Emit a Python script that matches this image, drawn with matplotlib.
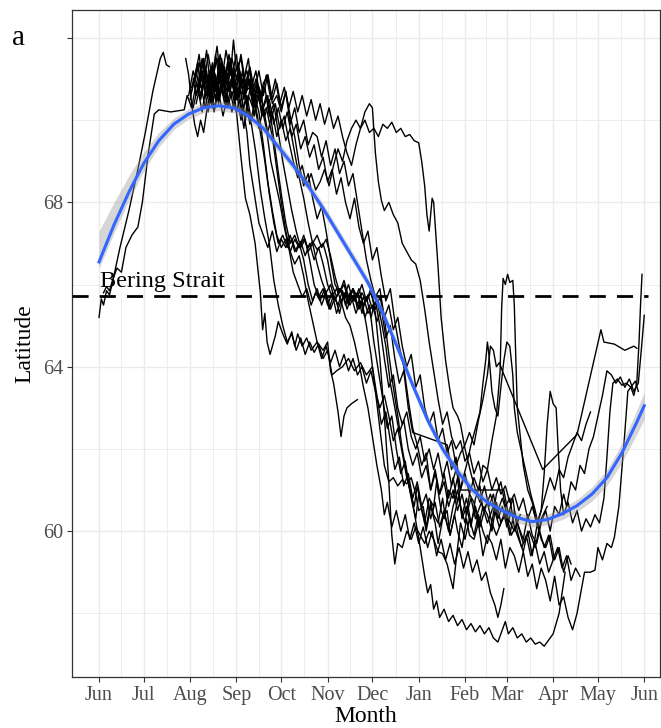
import numpy as np
import matplotlib.pyplot as plt

# month ticks, in days since 1 June
month_days = [0, 30, 61, 92, 122, 153, 183, 214, 245, 273, 304, 334, 365]
month_labels = ['Jun', 'Jul', 'Aug', 'Sep', 'Oct', 'Nov', 'Dec', 'Jan', 'Feb', 'Mar', 'Apr', 'May', 'Jun']
lat_ticks = [60, 64, 68, 72]
lat_labels = ['60', '64', '68', '']

bering_lat = 65.72

# smoothed mean track (loess) and its confidence band
smooth_day = [0, 10, 20, 30, 40, 50, 60, 70, 80, 90, 100, 110, 120, 130, 140, 150, 160, 170, 180,
              190, 200, 210, 220, 230, 240, 250, 260, 270, 280, 290, 300, 310, 320, 330, 340, 350, 360, 365]
smooth_lat = [66.55, 67.45, 68.25, 68.95, 69.5, 69.9, 70.15, 70.3, 70.35, 70.3, 70.1, 69.8, 69.35, 68.9,
              68.4, 67.85, 67.25, 66.65, 66.05, 65.3, 64.45, 63.55, 62.7, 62.0, 61.45, 61.0, 60.7, 60.5,
              60.33, 60.23, 60.28, 60.42, 60.62, 60.9, 61.3, 61.9, 62.65, 63.05]
ci_below = [0.15, 0.2, 0.2, 0.18, 0.15, 0.13, 0.12, 0.12, 0.12, 0.12, 0.12, 0.12, 0.12, 0.12, 0.12, 0.12,
            0.12, 0.12, 0.12, 0.12, 0.12, 0.12, 0.12, 0.12, 0.12, 0.12, 0.12, 0.13, 0.13, 0.13, 0.13,
            0.14, 0.15, 0.17, 0.19, 0.23, 0.29, 0.33]
ci_above = [0.75, 0.55, 0.4, 0.28, 0.2, 0.15, 0.13, 0.12, 0.12, 0.12, 0.12, 0.12, 0.12, 0.12, 0.12, 0.12,
            0.12, 0.12, 0.12, 0.12, 0.12, 0.12, 0.12, 0.12, 0.12, 0.12, 0.12, 0.13, 0.13, 0.13, 0.13,
            0.14, 0.15, 0.17, 0.19, 0.23, 0.29, 0.33]

# individual tracks: (day since 1 June, latitude)
trk01 = [(0, 65.2), (1.5, 65.65), (3, 65.5), (5, 65.85), (7, 65.75), (9, 66.05), (14, 66.9), (20, 67.8),
         (26, 68.8), (31, 69.7), (36, 70.7), (41, 71.5), (43, 71.65), (45, 71.35), (47, 71.3)]

trk02 = [(3, 65.8), (5, 65.95), (7, 65.85), (9, 66.1), (12, 66.4), (15, 66.3), (18, 66.9), (22, 67.2),
         (26, 67.4), (29, 68.0), (33, 69.2), (37, 70.15), (40, 70.25), (48, 70.2), (57, 70.25), (59, 70.6),
         (62, 70.3), (65, 70.9), (68, 70.5), (71, 71.0), (74, 70.6), (77, 71.2), (80, 70.7), (83, 71.0),
         (86, 70.4), (89, 70.9), (92, 70.5), (95, 71.1), (98, 70.6), (101, 71.0), (104, 70.4), (107, 70.8),
         (110, 70.3), (113, 70.6), (116, 69.8), (119, 69.0), (122, 68.2), (125, 67.5), (128, 67.0),
         (131, 67.2), (134, 66.9), (137, 67.1), (140, 66.9), (143, 67.05), (146, 66.85), (150, 67.0),
         (153, 66.6), (156, 66.0), (159, 65.7), (162, 65.9), (165, 65.5), (168, 65.8), (171, 65.6),
         (174, 65.9), (177, 65.5), (180, 65.75), (183, 65.4), (186, 65.6), (189, 65.1), (192, 64.5),
         (195, 63.6), (198, 63.0), (201, 62.4), (204, 62.7), (207, 62.0), (210, 61.6), (213, 61.9),
         (216, 61.3), (219, 61.6), (222, 61.0), (225, 61.4), (228, 60.9), (231, 61.2), (234, 60.6),
         (237, 61.0), (240, 60.5), (243, 60.9), (246, 60.4), (249, 60.8), (252, 60.3), (256, 60.7),
         (260, 60.2), (264, 60.6), (268, 60.1), (272, 60.5), (276, 59.9), (280, 60.2), (284, 59.7),
         (288, 60.0), (292, 59.6), (296, 60.3), (300, 60.6)]

trk03 = [(58, 71.5), (60, 71.1), (62, 70.4), (64, 69.9), (66, 69.6), (68, 70.0), (70, 69.7), (72, 70.2),
         (74, 70.6), (76, 70.3), (78, 71.0), (80, 70.5), (83, 71.3), (86, 70.8), (89, 71.5), (92, 71.0),
         (95, 71.6), (98, 70.9), (101, 71.3), (104, 70.7), (107, 71.2), (110, 70.6), (113, 71.1),
         (116, 70.5), (119, 70.9), (122, 70.3), (125, 70.7), (128, 70.1), (131, 69.6), (134, 68.9),
         (137, 68.4), (140, 68.7), (143, 68.1), (146, 67.6), (149, 67.9), (152, 67.3), (155, 66.6),
         (158, 66.0), (161, 65.8), (164, 66.1), (167, 65.7), (170, 65.9), (173, 65.5), (176, 65.8),
         (179, 65.6), (182, 65.9), (185, 65.3), (188, 64.2), (191, 62.8), (194, 61.2), (196, 59.9),
         (198, 59.2), (200, 59.7), (203, 59.6), (206, 60.0), (209, 59.8), (212, 60.1), (215, 59.9),
         (218, 59.7), (221, 60.0), (224, 59.8), (227, 59.5), (230, 59.45), (233, 59.2), (237, 58.6),
         (240, 59.6), (242, 60.2), (245, 59.8), (248, 60.3), (251, 59.9), (254, 60.4), (257, 60.0),
         (260, 59.7), (263, 60.2), (266, 59.9), (270, 60.3)]

trk04 = [(62, 70.8), (65, 71.2), (68, 70.6), (71, 71.1), (74, 70.5), (77, 71.0), (80, 70.4), (83, 70.9),
         (86, 70.3), (89, 70.7), (92, 70.2), (95, 69.1), (98, 68.1), (101, 67.7), (104.5, 67.0),
         (108, 65.8), (109.5, 64.9), (111, 65.3), (112.5, 64.6), (114.5, 64.3), (118, 64.75), (120, 65.1),
         (123, 64.8), (126, 64.55), (129, 64.85), (131, 64.5), (133, 64.8), (136, 64.5), (139, 64.7),
         (142, 64.4), (146, 64.6), (150, 64.4), (153, 64.6), (155, 63.9), (157, 63.6), (160, 62.9),
         (162, 62.3), (164, 62.8), (166, 63.0), (169, 63.1), (173, 63.2)]

trk05 = [(63, 71.0), (65, 70.6), (67, 70.8), (70, 71.5), (72, 70.9), (74, 71.1), (77, 70.3), (79, 70.6),
         (82, 71.4), (84, 71.2), (87, 70.7), (89, 71.0), (92, 70.2), (94, 70.5), (97, 69.8), (99, 70.4),
         (102, 69.9), (105, 69.2), (108, 68.3),
         (111, 67.6), (114, 67.0), (117, 66.1), (120, 65.5), (123, 65.0), (126, 64.6), (129, 64.8),
         (132, 64.4), (135, 64.7), (138, 64.3), (141, 64.6), (144, 64.35), (147, 64.55), (150, 64.2),
         (153, 64.4), (156, 63.8), (159, 63.9), (163, 64.0), (167, 64.2), (171, 63.9), (175, 64.1),
         (179, 63.8), (183, 64.0), (186, 63.3), (189, 62.6), (192, 62.9), (195, 62.2), (198, 61.5),
         (201, 61.8), (204, 61.1), (207, 61.4), (210, 60.8), (213, 61.2), (216, 60.6), (219, 60.9),
         (222, 60.3), (225, 60.7), (228, 60.1), (231, 60.5), (234, 60.0), (237, 60.6), (240, 61.0),
         (243, 60.4), (246, 60.8), (249, 60.2), (252, 60.6), (255, 60.1), (258, 60.5), (262, 60.9),
         (266, 60.4), (270, 60.8), (274, 60.3), (278, 60.0), (282, 60.4)]

trk06 = [(60, 70.6), (63, 71.2), (66, 70.8), (69, 71.5), (72, 70.9), (75, 71.3), (78, 70.7), (81, 71.6),
         (84, 71.0), (87, 71.4), (90, 70.8), (93, 71.1), (96, 70.4), (99, 69.7), (101, 68.9), (104, 68.2),
         (107, 67.5), (110, 67.2), (113, 66.9), (116, 67.3), (119, 66.8), (122, 67.1), (125, 66.9),
         (128, 67.2), (131, 66.8), (134, 67.0), (137, 66.6), (140, 66.0), (143, 65.6), (146, 65.9),
         (149, 65.5), (152, 65.8), (155, 65.4), (158, 65.7), (161, 65.3), (164, 65.8), (167, 65.5),
         (170, 65.9), (173, 65.4), (176, 65.6), (179, 65.0), (182, 64.3), (185, 63.4), (188, 62.5),
         (191, 61.6), (194, 61.2), (197, 61.3), (200, 61.1), (203, 61.25), (206, 61.15), (209, 61.3),
         (212, 60.9), (214, 60.5), (217, 60.6), (219, 60.1), (222, 60.7), (224, 60.4), (227, 60.2),
         (230, 60.8), (232, 60.3), (235, 59.9), (238, 60.4), (240, 60.0), (243, 59.6), (246, 60.3),
         (248, 59.9), (251, 59.8), (254, 60.2), (257, 59.4), (260, 59.9), (263, 59.7), (266, 59.3),
         (269, 59.8), (272, 59.1), (275, 59.6), (278, 59.4), (281, 59.0), (284, 59.5), (287, 58.9),
         (290, 59.2), (293, 58.6), (296, 59.1), (299, 58.8), (302, 58.3), (305, 58.9), (308, 58.2),
         (311, 58.4), (314, 57.9), (317, 57.6), (320, 58.0), (322, 58.4), (325, 59.0),
         (329, 59.0), (332, 59.05), (334, 59.6), (337, 59.3), (340, 59.7), (343, 59.6), (345, 59.85),
         (348, 60.6), (350, 61.5), (352, 62.4), (354, 63.4), (356, 63.5), (358, 63.3), (360, 63.6),
         (361.5, 64.6), (362.5, 65.5), (363.5, 66.25)]

trk07 = [(64, 70.9), (67, 71.4), (70, 70.8), (73, 71.6), (76, 71.0), (79, 71.5), (82, 70.9), (85, 71.7),
         (88, 71.1), (90, 71.95), (92, 71.2), (95, 71.5), (98, 70.8), (101, 71.2), (104, 70.6), (107, 70.2),
         (110, 69.4), (113, 68.5), (116, 67.8), (119, 67.2), (122, 66.9), (125, 67.1), (128, 66.8),
         (131, 67.1), (134, 66.9), (137, 67.2), (140, 66.8), (143, 67.0), (146, 66.5), (149, 66.1),
         (152, 65.8), (155, 66.0), (158, 65.6), (161, 65.9), (164, 65.7), (167, 66.0), (170, 65.6),
         (173, 65.8), (176, 65.3), (179, 65.7), (182, 65.2), (185, 65.6), (188, 65.0), (191, 64.2),
         (194, 63.5), (197, 63.8), (200, 63.0), (203, 62.6), (206, 62.9), (209, 62.3), (212, 62.0),
         (215, 62.3), (218, 61.7), (221, 62.0), (224, 61.5), (227, 61.9), (230, 61.3), (233, 61.7),
         (236, 61.1), (239, 61.5), (242, 61.0), (245, 61.4), (248, 60.9), (251, 61.3), (254, 61.0),
         (257, 61.6), (260, 61.5), (263, 62.2), (266, 62.8), (268.5, 63.9), (269.5, 65.4), (270.5, 66.15),
         (272, 66.0), (273.5, 66.25), (275, 66.05), (277, 66.1), (278, 65.5), (279, 64.2), (280, 63.0),
         (282, 62.3), (284, 61.6), (287, 61.0), (290, 60.7), (293, 60.2), (296, 59.8), (299, 59.6),
         (302, 59.9), (305, 59.3), (308, 59.6), (311, 59.0), (314, 59.4), (316, 59.2)]

trk08 = [(61, 70.5), (63, 70.9), (66, 71.4), (68, 70.8), (70, 70.9), (73, 70.2), (76, 70.8), (78, 71.6),
         (80, 71.1), (83, 70.6), (85, 70.9), (88, 71.5), (90, 71.0), (93, 70.5), (96, 71.2), (98, 70.7),
         (101, 70.8), (104, 70.1), (106, 70.6), (109, 70.3),
         (112, 69.8), (115, 69.0), (118, 68.5), (121, 68.0), (124, 67.4), (127, 66.9),
         (130, 66.3), (133, 66.0), (136, 65.7), (139, 65.9), (142, 65.5), (145, 65.8), (148, 65.6),
         (151, 65.9), (154, 65.4), (157, 65.75), (160, 65.5), (163, 65.85), (166, 65.4), (169, 65.7),
         (172, 65.3), (175, 65.6), (178, 65.2), (181, 65.5), (184, 64.6), (187, 63.9), (190, 63.2),
         (193, 62.5), (196, 62.8), (199, 62.0), (202, 61.4), (205, 61.7), (208, 61.0), (211, 60.6),
         (213, 61.1), (216, 60.5), (218, 60.2), (221, 60.8), (224, 60.6), (226, 61.2), (229, 60.5),
         (231, 60.3), (234, 61.0), (237, 60.8), (240, 61.3), (242, 60.6), (245, 60.2), (248, 60.9),
         (251, 60.7), (254, 60.1), (257, 60.6), (260, 60.4), (263, 60.0), (266, 60.7), (269, 60.2),
         (272, 60.4), (275, 59.9), (278, 60.5), (281, 60.1), (284, 59.8), (287, 60.4), (290, 59.9),
         (293, 59.7), (296, 60.2), (299, 60.5), (302, 60.0), (305, 60.6), (308, 60.4), (311, 60.9),
         (313, 60.6), (316, 61.2),
         (319, 61.0), (322, 61.6), (325, 61.4), (328, 62.0), (331, 62.3), (334, 62.8), (337, 63.3),
         (340, 63.9), (343, 63.8), (346, 63.6), (349, 63.75), (352, 63.5), (355, 63.7), (358, 63.4),
         (361, 63.6), (363, 64.4), (365, 65.25)]

trk09 = [(62, 70.7), (64, 71.0), (67, 71.6), (69, 71.0), (72, 71.2), (74, 70.6), (77, 71.3), (80, 71.5),
         (82, 70.9), (85, 70.4), (87, 70.9), (90, 71.1), (92, 70.5), (95, 70.7), (98, 70.0), (100, 70.6),
         (103, 70.3), (106, 70.8), (109, 70.1), (112, 70.3),
         (116, 69.6), (119, 68.8), (122, 68.0), (125, 67.3), (128, 66.8),
         (131, 66.5), (134, 66.7), (137, 66.2), (140, 65.6), (143, 65.1), (146, 64.6), (149, 64.2),
         (152, 64.5), (155, 64.1), (158, 64.4), (161, 64.0), (164, 64.3), (167, 63.9), (170, 64.2),
         (173, 63.8), (176, 64.0), (179, 63.6), (182, 63.9), (185, 63.4), (188, 63.0), (191, 63.3),
         (194, 62.8), (197, 62.2), (200, 62.5), (203, 61.9), (206, 61.3), (209, 60.9), (212, 60.25),
         (215, 59.6), (218, 58.9), (220, 58.5), (222, 58.7), (224, 58.1), (226, 58.3), (228, 57.9),
         (231, 58.1), (234, 57.8), (237, 57.95), (240, 57.7), (243, 57.85), (246, 57.6), (249, 57.75),
         (252, 57.55), (255, 57.7), (258, 57.5), (261, 57.65), (264, 57.4), (267, 57.3), (270, 57.6),
         (272, 57.8), (274, 57.5), (277, 57.65), (280, 57.4), (283, 57.5), (286, 57.3), (289, 57.4),
         (292, 57.25), (295, 57.3), (298, 57.2), (301, 57.35), (304, 57.5), (306, 57.75), (308, 58.0),
         (310, 58.5), (312, 59.0)]

trk10 = [(65, 70.4), (68, 70.9), (71, 70.3), (74, 70.8), (77, 70.2), (80, 70.7), (83, 70.1), (86, 70.6),
         (89, 70.2), (92, 70.7), (95, 70.0), (98, 70.5), (101, 69.9), (104, 70.4), (107, 69.8), (110, 70.3),
         (113, 69.7), (116, 70.2), (119, 69.6), (122, 70.0), (125, 69.5), (128, 69.8), (131, 69.2),
         (134, 68.6), (137, 68.1), (140, 67.5), (143, 67.0), (146, 67.2), (149, 66.9), (152, 67.1),
         (155, 66.7), (158, 66.2), (161, 65.8), (164, 66.0), (167, 65.6), (170, 65.9), (173, 65.7),
         (176, 66.0), (179, 65.6), (182, 65.8), (185, 65.4), (188, 65.7), (191, 65.2), (194, 65.5),
         (197, 64.9), (200, 65.2), (203, 64.5), (206, 64.0), (209, 64.3), (212, 63.5), (215, 63.8),
         (218, 63.0), (221, 62.6), (224, 62.9), (227, 62.2), (230, 62.5), (233, 61.9), (236, 62.2),
         (239, 61.6), (242, 61.9), (245, 62.1), (248, 62.4), (251, 62.1), (254, 62.7), (257, 63.2),
         (260, 63.8), (262, 64.5), (264, 64.4), (266, 64.0), (268, 64.1), (270, 63.9), (297, 61.5),
         (320, 62.35), (336, 64.9), (338, 64.6), (345, 64.55), (352, 64.4), (358, 64.5), (360, 64.45)]

trk11 = [(67, 71.0), (70, 71.5), (73, 70.9), (76, 71.4), (79, 70.8), (82, 71.3), (85, 70.7), (88, 71.2),
         (91, 70.6), (94, 71.1), (97, 70.5), (100, 71.0), (103, 70.4), (106, 70.9), (109, 70.6), (112, 71.1),
         (115, 70.5), (118, 71.0), (121, 70.4), (124, 70.8), (127, 70.3), (130, 70.7), (133, 70.2),
         (136, 70.6), (139, 70.1), (142, 70.5), (145, 70.0), (148, 70.4), (151, 69.9), (154, 70.3),
         (157, 69.8), (160, 70.1), (163, 69.6), (166, 69.2), (169, 68.9), (172, 69.4), (175, 69.8),
         (178, 70.0), (181, 69.7), (184, 69.8), (187, 69.6), (190, 69.9), (193, 69.8), (196, 69.95),
         (199, 69.7), (202, 69.8), (205, 69.6), (208, 69.65), (211, 69.5), (214, 69.45), (216, 69.0),
         (218, 68.4), (219.5, 67.7), (221, 67.3), (222, 67.7), (223, 68.1), (224, 68.0), (227, 66.4),
         (229, 65.2), (232, 64.15), (235, 63.4), (237, 63.0), (240, 62.8), (242, 62.6), (245, 62.0),
         (249, 61.4), (252, 61.0), (255, 60.7), (258, 61.1), (261, 60.6), (264, 60.9), (267, 60.3),
         (270, 60.6), (273, 60.1), (276, 60.5)]

trk12 = [(70, 71.2), (73, 70.6), (76, 71.3), (79, 70.8), (82, 71.5), (85, 70.9), (88, 71.3), (91, 70.7),
         (94, 71.2), (97, 70.6), (100, 71.0), (103, 70.5), (106, 70.8), (109, 70.2), (112, 70.6), (115, 70.0),
         (118, 70.4), (121, 69.8), (124, 70.1), (127, 69.5), (130, 69.0), (133, 68.6), (136, 68.9),
         (139, 68.4), (142, 68.7), (145, 68.3), (148, 68.5), (151, 68.8), (154, 68.4), (157, 68.9),
         (160, 69.3), (163, 69.0), (166, 69.5), (169, 69.8), (172, 70.0), (175, 69.8), (178, 70.2),
         (181, 70.4), (183, 70.3), (185, 69.2), (187, 68.5), (189, 68.05), (191, 67.8), (194, 68.0),
         (197, 67.7), (200, 67.5), (203, 67.0), (206, 66.8), (209, 66.6), (212, 66.5), (215, 66.1),
         (218, 65.4), (221, 64.6), (224, 63.9), (227, 63.2), (230, 62.6), (233, 62.9), (236, 62.3),
         (239, 62.0), (242, 62.2), (245, 61.7), (248, 61.9), (251, 61.4), (254, 61.7), (257, 61.2),
         (260, 61.5), (263, 61.0), (266, 61.3), (269, 60.9), (272, 61.1), (275, 60.7), (278, 60.9),
         (281, 60.5), (284, 60.8), (287, 60.3), (290, 60.6), (293, 60.2), (296, 60.5), (299, 60.9),
         (302, 61.3), (305, 61.0), (308, 61.5), (311, 61.3), (314, 61.8), (317, 62.1), (320, 62.4),
         (323, 62.2), (326, 62.6), (329, 62.9)]

trk13 = [(66, 70.7), (69, 71.2), (72, 70.6), (75, 71.1), (78, 70.5), (81, 71.3), (84, 70.9), (87, 71.6),
         (90, 71.0), (93, 71.4), (96, 70.9), (99, 71.2), (102, 70.6), (105, 71.0), (108, 70.4), (111, 70.8),
         (114, 70.1), (117, 70.4), (120, 69.7), (123, 69.0), (126, 68.4), (129, 67.8), (132, 67.3),
         (135, 66.9), (138, 67.1), (141, 66.6), (144, 66.0), (147, 65.7), (150, 65.9), (153, 65.5),
         (156, 65.8), (159, 65.3), (162, 65.6), (165, 65.2), (168, 65.0), (171, 64.6), (174, 64.1),
         (177, 63.5), (180, 63.0), (183, 62.3), (186, 61.6), (189, 61.0), (191, 60.4), (193, 60.7),
         (196, 60.1), (199, 60.5), (202, 60.0), (205, 60.4), (208, 59.8), (211, 60.2), (214, 59.7),
         (217, 60.1), (220, 59.6), (223, 60.0), (226, 59.4), (229, 59.8), (232, 59.3), (235, 59.7),
         (238, 59.2), (241, 59.6), (244, 59.1), (247, 59.5), (250, 59.0), (253, 59.3), (256, 58.8),
         (259, 59.0), (262, 58.5), (265, 58.2), (267, 57.9), (269, 58.2), (271, 58.6)]

trk14 = [(68, 70.9), (70, 71.2), (72, 71.7), (74, 71.0), (77, 71.3), (79, 71.8), (81, 71.1), (84, 70.8),
         (86, 71.4), (89, 71.1), (92, 71.6), (94, 70.9), (97, 71.0), (100, 71.5), (102, 70.8), (105, 71.2),
         (108, 70.5), (110, 70.9), (113, 71.1), (116, 70.4), (119, 70.6), (122, 70.2), (125, 70.7),
         (128, 69.9), (131, 70.3), (134, 69.7), (137, 70.0), (140, 69.4), (143, 69.7), (146, 69.6),
         (149, 69.1), (152, 69.5), (155, 68.9), (158, 69.3), (161, 68.7), (164, 69.0), (167, 68.4),
         (170, 68.7), (173, 68.0), (176, 67.3), (179, 66.6), (182, 66.1), (185, 65.7), (188, 65.9),
         (191, 65.2), (194, 64.3), (197, 63.5),
         (200, 62.8), (203, 62.0), (206, 61.4), (209, 60.8), (212, 60.3), (214, 60.9), (217, 60.4),
         (219, 60.0), (222, 60.6), (225, 60.2), (227, 59.7), (230, 60.3), (233, 60.5), (235, 59.9),
         (238, 60.4), (241, 60.9), (243, 60.3), (246, 60.6), (249, 60.1), (252, 60.8), (255, 61.1),
         (257, 60.5), (260, 60.7), (263, 60.2), (266, 60.9), (269, 61.2), (272, 60.6), (275, 60.8),
         (278, 60.1), (281, 59.8), (284, 59.5), (287, 60.0), (290, 59.4), (293, 60.1), (296, 60.5),
         (298, 61.4), (300, 62.6),
         (302, 63.4), (304, 63.1), (306, 63.0), (307.5, 61.9), (309, 61.0), (311, 60.4), (314, 60.7),
         (317, 60.2), (320, 60.5), (323, 60.0), (326, 60.3), (329, 60.1), (332, 60.4), (335, 60.2),
         (338, 60.8), (340, 61.8), (342, 62.9), (344, 63.6), (347, 63.7), (350, 63.55), (353, 63.6),
         (356, 63.5), (359, 63.65), (361, 63.4)]

trk15 = [(63, 70.3), (66, 70.8), (69, 70.2), (72, 70.9), (75, 70.4), (78, 71.1), (81, 70.6), (84, 71.3),
         (87, 70.7), (90, 71.2), (93, 70.6), (96, 71.0), (99, 70.4), (102, 70.9), (105, 70.3), (108, 70.7),
         (111, 70.1), (114, 70.5), (117, 69.9), (120, 70.3), (123, 69.8), (126, 70.2), (129, 69.6),
         (132, 69.9), (135, 69.3), (138, 69.6), (141, 69.1), (144, 69.4), (147, 68.8), (150, 69.1),
         (153, 68.5), (156, 68.8), (159, 68.2), (162, 68.6), (165, 68.0), (168, 67.6), (171, 68.1),
         (174, 67.4), (177, 67.0), (180, 67.3), (183, 66.6), (186, 66.9), (189, 66.2), (192, 65.6),
         (195, 65.9), (198, 65.1), (201, 64.5), (204, 64.0), (207, 63.2), (210, 62.5), (213, 62.1),
         (216, 61.6), (219, 61.9), (222, 61.0), (225, 61.5), (228, 60.9), (231, 61.4), (234, 60.8),
         (237, 61.3), (240, 60.7), (243, 61.2), (246, 61.6), (249, 62.1), (252, 62.5), (255, 62.9),
         (257, 63.6), (259, 64.2), (260, 64.6), (261, 64.3), (263, 63.4), (265, 63.0), (267, 62.8),
         (269, 63.5), (271, 64.15), (273, 64.6), (275, 64.5), (277, 63.8), (278, 63.0), (280, 62.4),
         (283, 61.9), (286, 61.4), (289, 60.9), (292, 60.5), (295, 60.0), (298, 59.6), (301, 59.9),
         (304, 59.3), (307, 59.6), (310, 59.1), (313, 59.4), (316, 58.8), (319, 59.1), (322, 58.9)]

trk16 = [(72, 70.6), (75, 71.2), (78, 70.5), (81, 71.0), (84, 70.4), (87, 70.9), (90, 70.3), (93, 70.8),
         (96, 70.2), (99, 70.6), (102, 70.0), (105, 70.3), (108, 69.7), (111, 69.0), (114, 68.2), (117, 67.5),
         (120, 67.0), (123, 67.2), (126, 66.9), (129, 67.1), (132, 66.8), (135, 67.05), (138, 66.7),
         (141, 67.0), (144, 66.6), (147, 66.9), (150, 66.5), (153, 66.0), (156, 65.7), (159, 65.9),
         (162, 65.6), (165, 65.8), (168, 65.5), (171, 65.75), (174, 65.4), (177, 65.7), (180, 65.3),
         (183, 65.5), (186, 65.1), (189, 65.4), (192, 64.7), (195, 65.0), (198, 64.2), (201, 63.6),
         (204, 63.9), (207, 63.0), (210, 62.4), (233, 62.1), (236, 61.5), (239, 61.8), (242, 61.0),
         (271, 61.0), (274, 60.4), (277, 60.8), (280, 60.0), (283, 59.6), (286, 59.9), (289, 59.4),
         (292, 59.7), (295, 59.2), (298, 59.5), (301, 59.0), (304, 59.3)]

tracks = [trk01, trk02, trk03, trk04, trk05, trk06, trk07, trk08,
          trk09, trk10, trk11, trk12, trk13, trk14, trk15, trk16]


def DrawTracks(ax):
    for trk in tracks:
        t = np.array(trk)
        ax.plot(t[:, 0], t[:, 1], color='black', linewidth=1.0, solid_joinstyle='round', zorder=2)


def DrawSmooth(ax):
    d = np.array(smooth_day)
    m = np.array(smooth_lat)
    ax.fill_between(d, m - np.array(ci_below), m + np.array(ci_above),
                    color='#999999', alpha=0.4, linewidth=0, zorder=4)
    ax.plot(d, m, color='#3366FF', linewidth=2.2, zorder=5)


def main():
    plt.rcParams['font.family'] = ['Liberation Serif', 'DejaVu Serif']

    fig = plt.figure(figsize=(6.61, 7.28), dpi=100)
    ax = fig.add_axes([72 / 661, 51 / 728, 587.5 / 661, 667 / 728])

    DrawTracks(ax)

    # Bering Strait reference
    ax.plot([-18.1, 367.5], [bering_lat, bering_lat], color='black', linewidth=2.0,
            dashes=(5.8, 4.0), zorder=3)
    ax.text(0.5, bering_lat + 0.22, 'Bering Strait', fontsize=17.5, ha='left', va='baseline', zorder=6)

    DrawSmooth(ax)

    ax.set_xlim(-18.1, 375.2)
    ax.set_ylim(56.45, 72.68)

    ax.set_xticks(month_days)
    ax.set_xticklabels(month_labels)
    ax.set_xticks([(a + b) / 2 for a, b in zip(month_days[:-1], month_days[1:])], minor=True)
    ax.set_yticks(lat_ticks)
    ax.set_yticklabels(lat_labels)
    ax.set_yticks([58, 62, 66, 70], minor=True)

    ax.grid(which='major', color='#EBEBEB', linewidth=1.0, zorder=0)
    ax.grid(which='minor', color='#EBEBEB', linewidth=0.6, zorder=0)
    ax.set_axisbelow(True)

    ax.tick_params(which='major', length=3.5, width=0.8, color='#333333',
                   labelsize=14.5, labelcolor='#4D4D4D', pad=3)
    ax.tick_params(which='minor', length=0)
    for s in ax.spines.values():
        s.set_color('#333333')
        s.set_linewidth(0.9)

    ax.set_xlabel('Month', fontsize=17, labelpad=0.5)
    ax.set_ylabel('Latitude', fontsize=17, labelpad=5)

    fig.text(12 / 661, 1 - 45 / 728, 'a', fontsize=21, ha='left', va='baseline')

    fig.savefig('out.png', dpi=100)


if __name__ == '__main__':
    main()
